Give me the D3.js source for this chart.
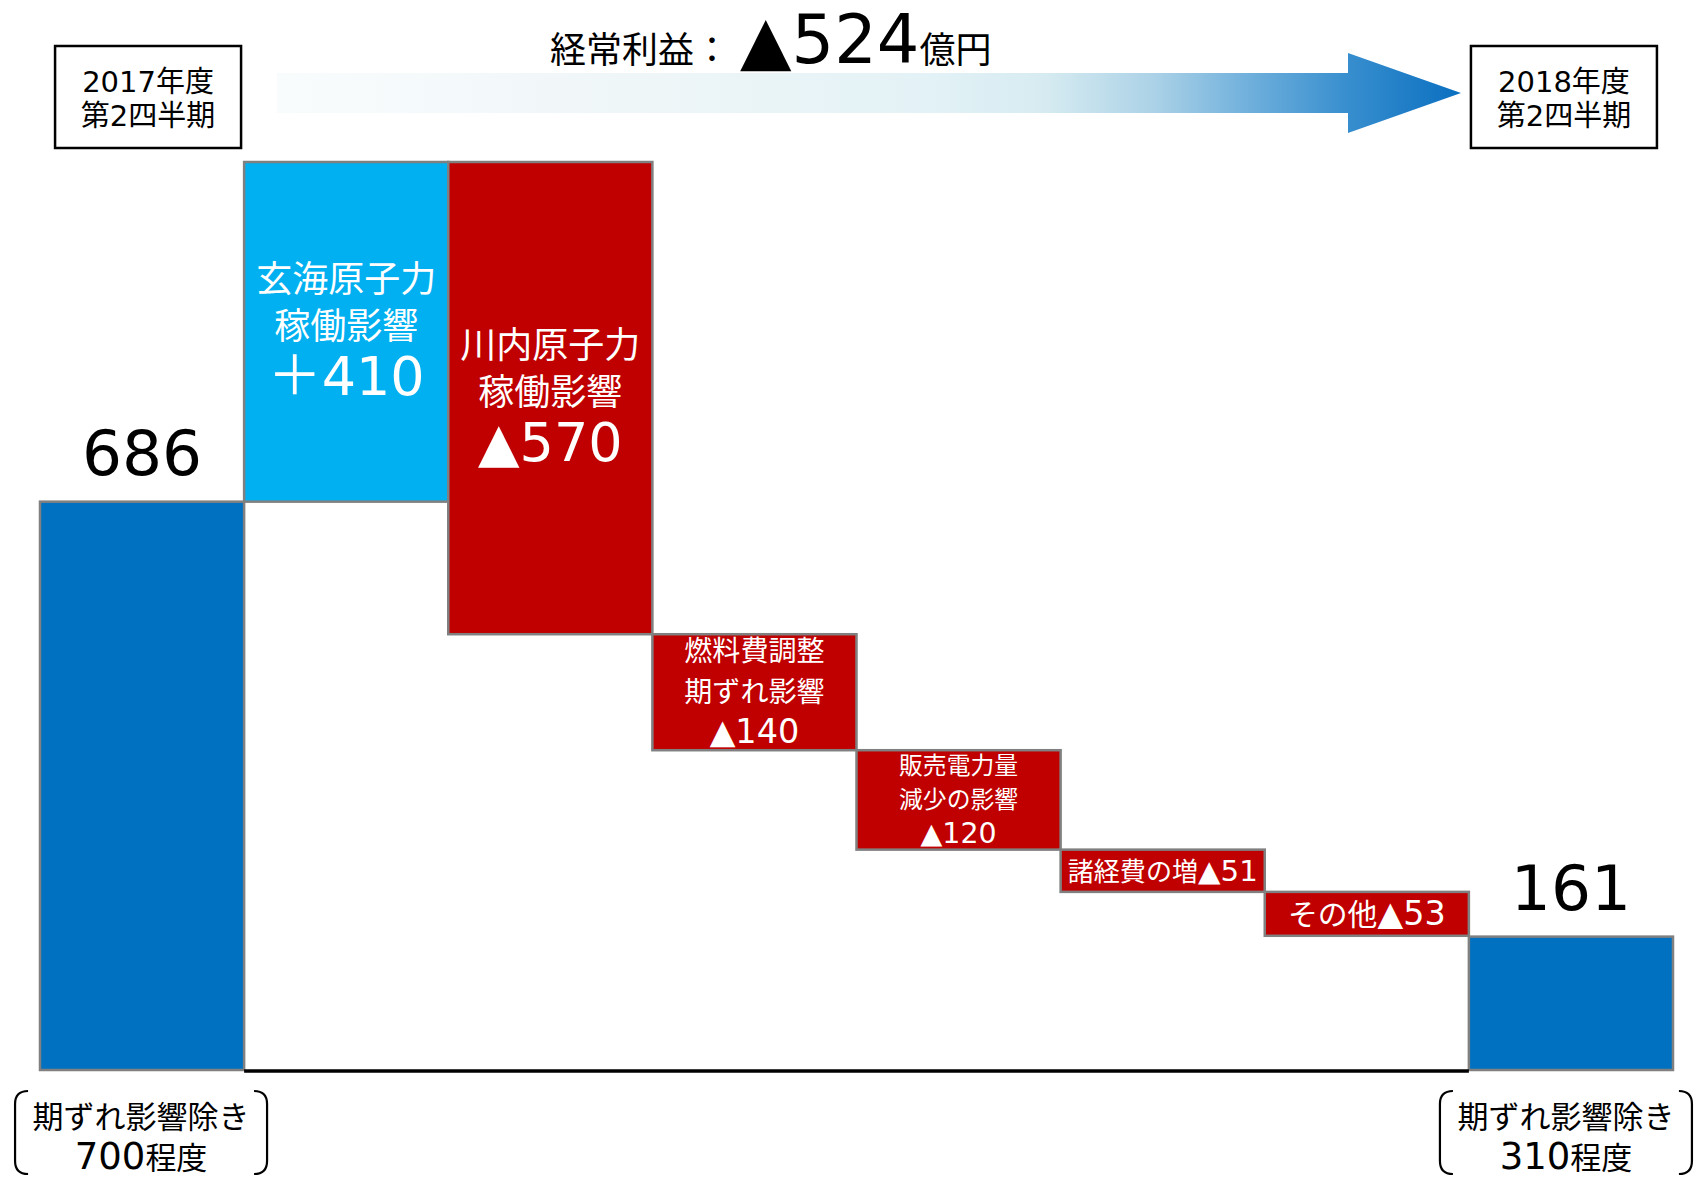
<!DOCTYPE html>
<html>
<head>
<meta charset="utf-8">
<script src="https://cdn.jsdelivr.net/npm/d3@7"></script>
<style>
  html, body { margin: 0; padding: 0; background: #fff; }
  svg { display: block; }
  text { font-family: "DejaVu Sans", "Noto Sans CJK JP", sans-serif; }
</style>
</head>
<body>
<svg id="chart" width="1702" height="1179"></svg>
<script>
// ---------------- data ----------------
const categories = ["2017Q2", "玄海", "川内", "燃料費調整", "販売電力量", "諸経費", "その他", "2018Q2"];
const nameLines = [
  [],
  ["玄海原子力", "稼働影響"],
  ["川内原子力", "稼働影響"],
  ["燃料費調整", "期ずれ影響"],
  ["販売電力量", "減少の影響"],
  ["諸経費の増"],
  ["その他"],
  []
];
const values = [686, 410, -570, -140, -120, -51, -53, 161];
const kinds = ["total", "up", "down", "down", "down", "down", "down", "total"];
const valueLabels = ["686", "＋410", "▲570", "▲140", "▲120", "▲51", "▲53", "161"];
const periodLabels = [["2017年度", "第2四半期"], ["2018年度", "第2四半期"]];
const noteLines = [["期ずれ影響除き", "700程度"], ["期ずれ影響除き", "310程度"]];
const titleParts = ["経常利益：", "▲524", "億円"];

// ---------------- layout ----------------
const svg = d3.select("#chart");
const colors = { total: "#0070c0", up: "#00b0f0", down: "#c00000" };
const CJK = "Noto Sans CJK JP";

// cumulative start / end
let run = 0;
const bars = values.map((v, i) => {
  let start, end;
  if (kinds[i] === "total") { start = 0; end = v; run = v; }
  else { start = run; end = run + v; run = end; }
  return { i, cat: categories[i], v, kind: kinds[i], start, end,
           lo: Math.min(start, end), hi: Math.max(start, end) };
});

const x = d3.scaleBand().domain(categories).range([40, 1673]).paddingInner(0).paddingOuter(0);
const y = d3.scaleLinear().domain([0, d3.max(bars, d => d.hi)]).range([1070, 162]);
const bw = x.bandwidth();

// ---------- gradient arrow ----------
const defs = svg.append("defs");
const grad = defs.append("linearGradient").attr("id", "arrowGrad")
  .attr("gradientUnits", "userSpaceOnUse").attr("x1", 277).attr("x2", 1461).attr("y1", 0).attr("y2", 0);
[[0, "#f9fcfd"], [0.3, "#eff6f8"], [0.55, "#e3f2f6"], [0.65, "#d6ebf1"], [0.74, "#acd2e7"],
 [0.82, "#70b0dc"], [0.9, "#3a90cf"], [1, "#0a6fc0"]].forEach(([o, c]) =>
  grad.append("stop").attr("offset", o).attr("stop-color", c));
svg.append("path")
  .attr("d", "M277,73 L1348,73 L1348,53 L1461,93 L1348,133 L1348,113 L277,113 Z")
  .attr("fill", "url(#arrowGrad)");

// ---------- title ----------
const title = svg.append("text").attr("x", 550).attr("y", 63).attr("fill", "#000");
title.append("tspan").attr("font-size", 36).attr("font-family", CJK).text(titleParts[0]);
title.append("tspan").attr("font-size", 67).attr("dx", 10).text(titleParts[1]);
title.append("tspan").attr("font-size", 36).attr("font-family", CJK).text(titleParts[2]);

// ---------- period boxes ----------
[categories[0], categories[categories.length - 1]].forEach((c, k) => {
  const cx = x(c) + bw / 2 + (k === 0 ? 6 : -7);
  const g = svg.append("g");
  g.append("rect").attr("x", cx - 93).attr("y", 46).attr("width", 186).attr("height", 102)
    .attr("fill", "#fff").attr("stroke", "#000").attr("stroke-width", 2.5);
  const t = g.append("text").attr("x", cx).attr("y", 92).attr("text-anchor", "middle")
    .attr("font-size", 29).attr("fill", "#000");
  periodLabels[k].forEach((s, j) => {
    t.append("tspan").attr("x", cx).attr("dy", j === 0 ? 0 : 34).text(s);
  });
});

// ---------- bars ----------
const barG = svg.append("g");
barG.selectAll("rect").data(bars).join("rect")
  .attr("x", d => x(d.cat))
  .attr("y", d => y(d.hi))
  .attr("width", bw)
  .attr("height", d => y(d.lo) - y(d.hi))
  .attr("fill", d => colors[d.kind])
  .attr("stroke", "#808080")
  .attr("stroke-width", 2.5);

// baseline
svg.append("line")
  .attr("x1", x(categories[0]) + bw).attr("x2", x(categories[categories.length - 1]))
  .attr("y1", y(0) + 1).attr("y2", y(0) + 1)
  .attr("stroke", "#000").attr("stroke-width", 3.5);

// ---------- labels inside change bars ----------
bars.filter(d => d.kind !== "total").forEach(d => {
  const h = y(d.lo) - y(d.hi);
  const cx = x(d.cat) + bw / 2;
  const cy = y(d.hi) + h / 2;
  const big = h > 200;
  const names = nameLines[d.i];
  let f1 = big ? 36 : 31;
  let f2 = big ? 54 : 37;
  // line spacing factors (loose enough that line boxes do not collide)
  const ls = big ? 1.31 : 1.46;
  const vd = (a, b) => big ? 1.04 * b : 0.3 * a + 0.95 * b;
  const block = (a, b) => 0.86 * a + (names.length - 1) * ls * a + vd(a, b) + 0.14 * b;
  const s = Math.min(1, (h - 6) / block(f1, f2));
  const g = barG.append("g").attr("fill", "#fff");
  if (s >= 0.7) {
    f1 *= s; f2 *= s;
    const bh = block(f1, f2);
    const top = cy - bh / 2;
    const t = g.append("text").attr("x", cx).attr("y", top + f1 * 0.86)
      .attr("text-anchor", "middle");
    names.forEach((n, j) => {
      t.append("tspan").attr("x", cx).attr("dy", j === 0 ? 0 : ls * f1)
        .attr("font-size", f1).attr("font-family", CJK).text(n);
    });
    t.append("tspan").attr("x", cx).attr("dy", vd(f1, f2))
      .attr("font-size", f2).text(valueLabels[d.i]);
  } else {
    // thin box: one line, fitted
    const fs = Math.min(30, h * 0.68);
    const t = g.append("text").attr("x", cx).attr("y", cy + fs * 0.38)
      .attr("text-anchor", "middle").attr("font-size", fs);
    t.append("tspan").attr("font-family", CJK).text(names.join(""));
    t.append("tspan").attr("font-size", fs * 1.12).text(valueLabels[d.i]);
    const w = t.node().getComputedTextLength();
    if (w > bw - 14) {
      const k = (bw - 14) / w;
      t.attr("font-size", fs * k).attr("y", cy + fs * k * 0.38);
      t.select("tspan:last-child").attr("font-size", fs * k * 1.12);
    }
  }
});

// ---------- total labels ----------
bars.filter(d => d.kind === "total").forEach(d => {
  svg.append("text").attr("x", x(d.cat) + bw / 2).attr("y", y(d.hi) - 27)
    .attr("text-anchor", "middle").attr("font-size", 63).attr("fill", "#000").text(valueLabels[d.i]);
});

// ---------- bracket notes ----------
[categories[0], categories[categories.length - 1]].forEach((c, k) => {
  const cx = x(c) + bw / 2 + (k === 0 ? -1 : -5);
  const top = 1091, bot = 1174, half = 126, r = 13;
  const g = svg.append("g");
  g.append("path").attr("fill", "none").attr("stroke", "#000").attr("stroke-width", 2.2)
    .attr("d", `M${cx - half + r},${top} Q${cx - half},${top} ${cx - half},${top + r} L${cx - half},${bot - r} Q${cx - half},${bot} ${cx - half + r},${bot}`);
  g.append("path").attr("fill", "none").attr("stroke", "#000").attr("stroke-width", 2.2)
    .attr("d", `M${cx + half - r},${top} Q${cx + half},${top} ${cx + half},${top + r} L${cx + half},${bot - r} Q${cx + half},${bot} ${cx + half - r},${bot}`);
  const t = g.append("text").attr("x", cx).attr("y", 1128).attr("text-anchor", "middle")
    .attr("font-size", 31).attr("fill", "#000");
  t.append("tspan").attr("x", cx).attr("font-family", CJK).text(noteLines[k][0]);
  const m = noteLines[k][1].match(/^([0-9]+)(.*)$/);
  t.append("tspan").attr("x", cx).attr("dy", 41).attr("font-size", 37).text(m[1]);
  t.append("tspan").attr("font-family", CJK).text(m[2]);
});
</script>
</body>
</html>
